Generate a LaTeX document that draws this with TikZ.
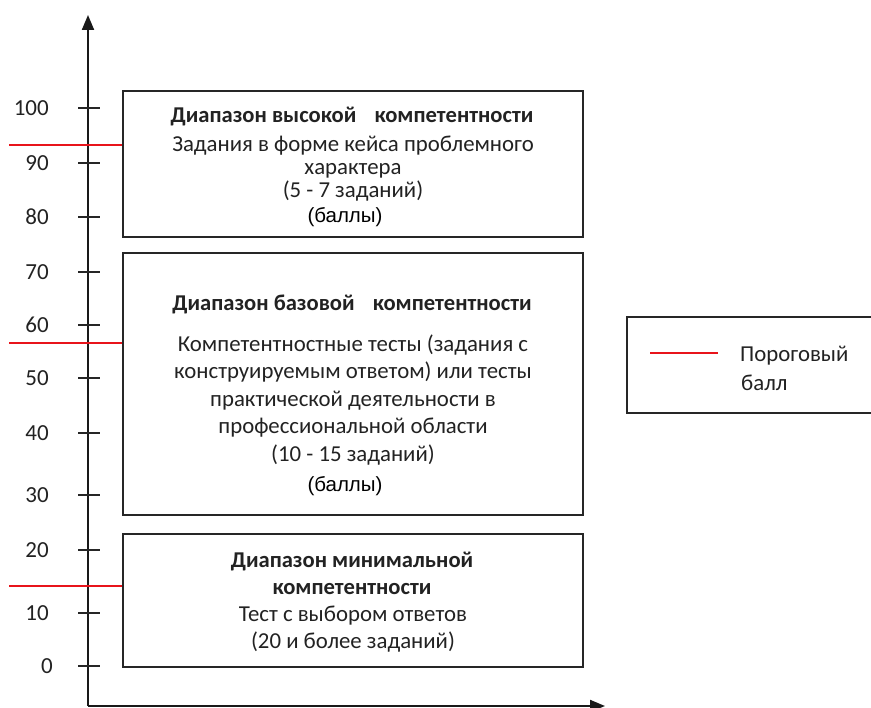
\documentclass[tikz,border=0pt]{standalone}
\usepackage{fontspec}
\setmainfont{Carlito}
\newfontfamily\arialf{Liberation Sans}
\usetikzlibrary{arrows.meta}
\definecolor{txt}{HTML}{222222}
\definecolor{thr}{HTML}{E8141B}
\begin{document}
\begin{tikzpicture}[x=1pt,y=-1pt,
  boxst/.style={draw=black!85,line width=2.2pt},
  lbl/.style={text=txt,font=\fontsize{22.8}{27}\selectfont,inner sep=0pt,text height=16pt,text depth=5.4pt,yshift=-3pt},
  ttl/.style={text=txt,font=\bfseries\fontsize{22.6}{27}\selectfont,inner sep=0pt,text height=16pt,text depth=5.4pt,yshift=-3pt},
  ball/.style={text=black,font=\arialf\fontsize{20.5}{24}\selectfont,inner sep=0pt,text height=16pt,text depth=5.4pt,yshift=-2pt},
  tick/.style={line width=1.8pt,black!85},
  ticklbl/.style={text=txt,font=\fontsize{23}{26}\selectfont,anchor=east,inner sep=0pt},
  thrline/.style={draw=thr,line width=2.2pt},
  axis/.style={line width=2pt,black!90,-{Triangle[length=15pt,width=12pt]}}]
\useasboundingbox (0,0) rectangle (871,708);
% axes
\coordinate (o) at (88,706);
\coordinate (ytop) at (88,15);
\coordinate (xend) at (605,706);
\draw[axis] (o) -- (ytop);
\draw[axis] (o) -- (xend);
% ticks
\foreach \v/\yy in {100/108,90/163,80/217,70/272,60/325,50/378,40/433,30/495,20/550,10/613}{
  \draw[tick] (78,\yy) -- (100,\yy);
  \node[ticklbl] (t\v) at (49,\yy) {\v};
}
\draw[tick] (78,666) -- (100,666);
\node[ticklbl] (t0) at (53,666) {0};
% boxes
\draw[boxst] (123,91) rectangle (583,237);
\draw[boxst] (123,253) rectangle (583,515);
\draw[boxst] (123,534) rectangle (583,667);
\coordinate (b1) at (122,145);
\coordinate (b2) at (122,343);
\coordinate (b3) at (122,586);
\coordinate (r1) at (9,145);
\coordinate (r2) at (9,343);
\coordinate (r3) at (9,586);
\draw[thrline] (r1) -- (b1);
\draw[thrline] (r2) -- (b2);
\draw[thrline] (r3) -- (b3);
% box 1 text
\node[ttl] (h1) at (352,114) {Диапазон высокой\hspace{0.8em}компетентности};
\node[lbl] (d1a) at (353,143) {Задания в форме кейса проблемного};
\node[lbl] (d1b) at (353,166) {характера};
\node[lbl] (n1) at (353,189) {(5 - 7 заданий)};
\node[ball] (p1) at (345,215) {(баллы)};
% box 2 text
\node[ttl] (h2) at (352,302) {Диапазон базовой\hspace{0.8em}компетентности};
\node[lbl] (d2a) at (353,343) {Компетентностные тесты (задания с};
\node[lbl] (d2b) at (353,370) {конструируемым ответом) или тесты};
\node[lbl] (d2c) at (353,398) {практической деятельности в};
\node[lbl] (d2d) at (353,425) {профессиональной области};
\node[lbl] (n2) at (353,453) {(10 - 15 заданий)};
\node[ball] (p2) at (345,484) {(баллы)};
% box 3 text
\node[ttl] (h3a) at (352,559) {Диапазон минимальной};
\node[ttl] (h3b) at (352,586) {компетентности};
\node[lbl] (d3a) at (353,613) {Тест с выбором ответов};
\node[lbl] (d3b) at (353,640) {(20 и более заданий)};
% legend
\draw[boxst] (627,317) rectangle (873,413);
\coordinate (la) at (650,353);
\coordinate (lb) at (718,353);
\draw[thrline] (la) -- (lb);
\node[lbl,anchor=west] (lt1) at (740,353) {Пороговый};
\node[lbl,anchor=west] (lt2) at (741,382) {балл};
\end{tikzpicture}
\end{document}
